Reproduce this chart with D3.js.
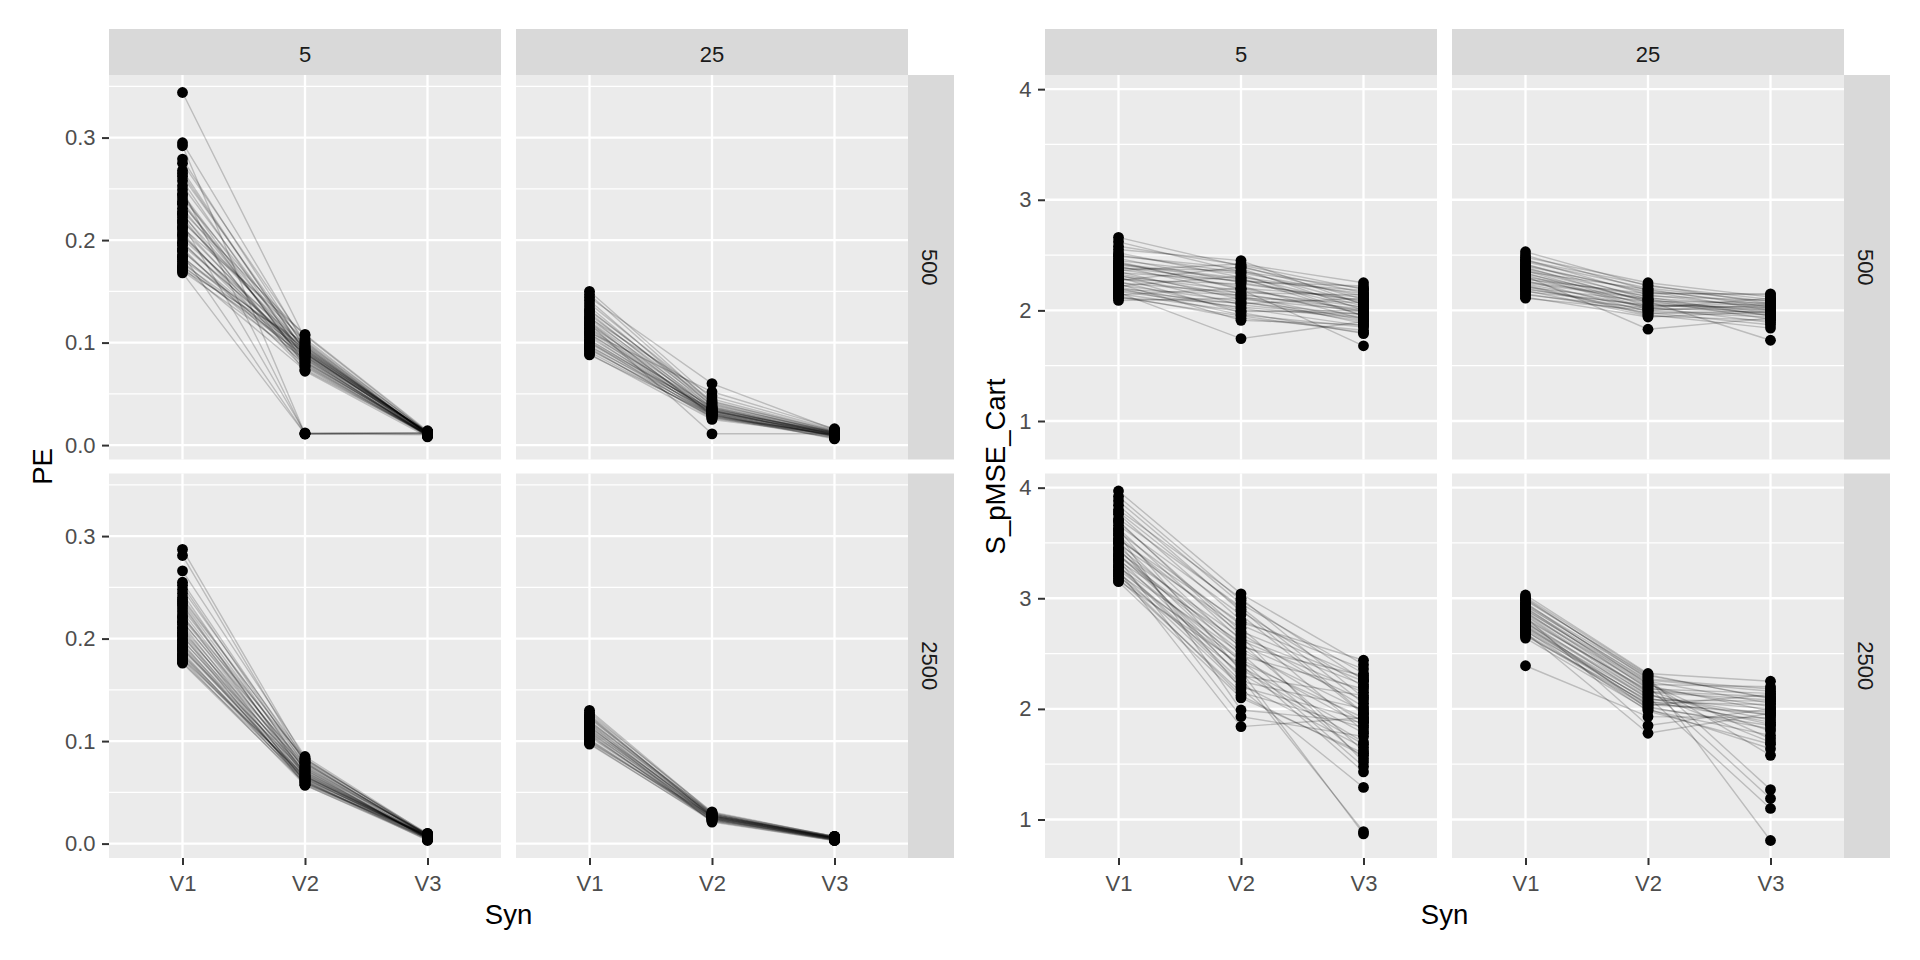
<!DOCTYPE html>
<html>
<head>
<meta charset="utf-8">
<script src="https://cdn.jsdelivr.net/npm/d3@7"></script>
<style>
  html, body { margin: 0; padding: 0; background: #ffffff; }
  svg { display: block; }
  text { font-family: "Liberation Sans", Arial, sans-serif; }
</style>
</head>
<body>
<svg id="chart" width="1920" height="960"></svg>
<script>
// ---------------- DATA ----------------
const SYN = ["V1", "V2", "V3"];
const COL_LABELS = ["5", "25"];
const ROW_LABELS = ["500", "2500"];

const PE_TICKS = [0, 0.1, 0.2, 0.3];
const PE_TICK_LABELS = ["0.0", "0.1", "0.2", "0.3"];
const S_TICKS = [1, 2, 3, 4];
const S_TICK_LABELS = ["1", "2", "3", "4"];

// PE, facet 5 / 500 : each row = [V1, V2, V3]
const pe_5_500 = [
[0.344,0.104,0.012],[0.295,0.098,0.011],[0.292,0.011,0.011],[0.279,0.094,0.013],
[0.275,0.101,0.010],[0.268,0.089,0.012],[0.262,0.096,0.011],[0.258,0.083,0.009],
[0.253,0.092,0.012],[0.249,0.011,0.010],[0.245,0.087,0.013],[0.241,0.099,0.011],
[0.238,0.080,0.010],[0.235,0.093,0.012],[0.231,0.086,0.009],[0.228,0.107,0.013],
[0.225,0.090,0.011],[0.222,0.078,0.010],[0.219,0.095,0.012],[0.216,0.012,0.011],
[0.213,0.084,0.010],[0.210,0.091,0.013],[0.207,0.076,0.009],[0.204,0.088,0.012],
[0.201,0.097,0.011],[0.198,0.082,0.010],[0.195,0.093,0.012],[0.192,0.074,0.011],
[0.189,0.089,0.013],[0.186,0.011,0.012],[0.184,0.085,0.010],[0.181,0.096,0.011],
[0.179,0.079,0.009],[0.177,0.092,0.012],[0.175,0.087,0.011],[0.173,0.073,0.010],
[0.171,0.100,0.013],[0.170,0.084,0.011],[0.168,0.011,0.012],[0.212,0.108,0.014],
[0.226,0.072,0.008],[0.197,0.090,0.010],[0.183,0.094,0.012],[0.236,0.081,0.011],
[0.205,0.086,0.009],[0.265,0.091,0.012],[0.244,0.077,0.010],[0.218,0.102,0.013],
[0.190,0.081,0.011],[0.174,0.090,0.010]
];
// PE, facet 25 / 500
const pe_25_500 = [
[0.150,0.045,0.014],[0.147,0.041,0.012],[0.144,0.060,0.015],[0.141,0.038,0.011],
[0.138,0.043,0.013],[0.135,0.036,0.010],[0.132,0.040,0.012],[0.129,0.034,0.009],
[0.127,0.039,0.013],[0.125,0.032,0.011],[0.123,0.037,0.010],[0.121,0.035,0.012],
[0.119,0.030,0.009],[0.117,0.036,0.011],[0.115,0.033,0.013],[0.113,0.029,0.010],
[0.111,0.034,0.008],[0.109,0.031,0.012],[0.107,0.028,0.010],[0.105,0.033,0.011],
[0.103,0.030,0.009],[0.101,0.027,0.012],[0.099,0.032,0.010],[0.097,0.029,0.008],
[0.095,0.026,0.011],[0.093,0.031,0.009],[0.091,0.028,0.007],[0.089,0.025,0.010],
[0.088,0.030,0.006],[0.118,0.011,0.011],[0.110,0.052,0.016],[0.124,0.048,0.015],
[0.100,0.035,0.012],[0.096,0.033,0.010],[0.108,0.037,0.013],[0.114,0.031,0.009],
[0.120,0.029,0.008],[0.102,0.034,0.011],[0.094,0.027,0.007],[0.131,0.042,0.014]
];
// PE, facet 5 / 2500
const pe_5_2500 = [
[0.287,0.082,0.008],[0.281,0.079,0.007],[0.266,0.085,0.009],[0.252,0.076,0.006],
[0.248,0.083,0.008],[0.244,0.071,0.005],[0.240,0.080,0.007],[0.236,0.074,0.009],
[0.232,0.068,0.006],[0.229,0.078,0.008],[0.226,0.072,0.005],[0.223,0.065,0.007],
[0.220,0.075,0.009],[0.217,0.069,0.006],[0.214,0.063,0.008],[0.211,0.073,0.004],
[0.208,0.067,0.007],[0.205,0.061,0.005],[0.202,0.070,0.008],[0.199,0.064,0.006],
[0.196,0.059,0.009],[0.194,0.068,0.007],[0.191,0.062,0.004],[0.189,0.066,0.006],
[0.187,0.058,0.008],[0.185,0.064,0.005],[0.183,0.060,0.007],[0.181,0.066,0.006],
[0.179,0.057,0.004],[0.177,0.062,0.008],[0.176,0.059,0.005],[0.198,0.072,0.010],
[0.210,0.060,0.006],[0.234,0.066,0.007],[0.216,0.077,0.009],[0.190,0.070,0.006],
[0.203,0.057,0.005],[0.238,0.081,0.010],[0.184,0.063,0.007],[0.221,0.083,0.008],
[0.255,0.079,0.007],[0.193,0.061,0.003],[0.206,0.074,0.006],[0.180,0.065,0.009]
];
// PE, facet 25 / 2500
const pe_25_2500 = [
[0.130,0.030,0.007],[0.128,0.029,0.006],[0.126,0.031,0.007],[0.124,0.028,0.006],
[0.122,0.029,0.005],[0.120,0.027,0.006],[0.118,0.028,0.007],[0.116,0.026,0.005],
[0.114,0.027,0.006],[0.112,0.025,0.004],[0.110,0.026,0.005],[0.108,0.027,0.006],
[0.106,0.024,0.004],[0.104,0.025,0.005],[0.102,0.023,0.004],[0.100,0.024,0.003],
[0.098,0.022,0.004],[0.097,0.023,0.005],[0.115,0.021,0.003],[0.119,0.030,0.007],
[0.111,0.028,0.006],[0.105,0.026,0.005],[0.109,0.024,0.004],[0.123,0.027,0.005],
[0.101,0.025,0.006],[0.113,0.029,0.006],[0.107,0.022,0.003],[0.125,0.026,0.004],
[0.099,0.027,0.006],[0.117,0.025,0.005]
];

// S_pMSE_Cart, facet 5 / 500
const s_5_500 = [
[2.66,2.40,2.10],[2.62,2.35,2.20],[2.55,2.45,2.05],[2.52,2.30,2.15],
[2.49,2.38,2.00],[2.47,2.25,2.08],[2.45,2.33,1.95],[2.43,2.20,2.12],
[2.41,2.28,2.02],[2.40,2.15,1.98],[2.38,2.36,2.06],[2.37,2.22,1.92],
[2.35,2.10,2.00],[2.34,2.27,2.18],[2.32,2.05,1.94],[2.31,2.18,2.03],
[2.29,2.12,1.88],[2.28,2.24,2.09],[2.26,2.00,1.97],[2.25,2.16,2.14],
[2.23,2.08,1.90],[2.22,2.31,2.04],[2.20,1.96,1.85],[2.19,2.14,2.01],
[2.17,2.03,1.93],[2.16,1.745,1.90],[2.14,2.20,1.99],[2.13,1.93,1.82],
[2.11,2.07,1.96],[2.09,2.11,2.07],[2.36,2.42,2.25],[2.30,1.98,1.79],
[2.44,2.19,1.68],[2.24,1.91,1.87],[2.39,2.26,2.22],[2.21,2.02,1.86],
[2.33,2.13,1.91],[2.27,2.39,2.16],[2.18,2.06,2.11],[2.42,2.29,1.95],
[2.50,2.34,2.13],[2.15,1.99,2.00],[2.58,2.41,2.19],[2.12,1.95,1.80]
];
// S_pMSE_Cart, facet 25 / 500
const s_25_500 = [
[2.53,2.22,2.10],[2.50,2.18,2.05],[2.48,2.25,2.12],[2.46,2.14,2.02],
[2.44,2.20,2.08],[2.42,2.10,1.98],[2.41,2.16,2.14],[2.39,2.07,2.00],
[2.38,2.12,1.95],[2.36,2.04,2.06],[2.35,2.19,2.03],[2.33,2.09,1.92],
[2.32,2.01,2.01],[2.30,2.13,2.09],[2.29,2.06,1.97],[2.27,1.99,1.94],
[2.26,2.11,2.04],[2.24,2.03,1.89],[2.23,1.97,2.00],[2.21,2.08,2.07],
[2.20,2.00,1.96],[2.18,1.95,1.91],[2.17,2.05,2.02],[2.15,1.98,1.87],
[2.14,2.02,2.11],[2.12,1.94,1.99],[2.11,2.00,2.05],[2.31,1.83,1.93],
[2.37,2.08,1.73],[2.28,2.15,2.15],[2.22,1.96,1.84],[2.45,2.23,2.06],
[2.34,2.02,1.98],[2.25,2.10,1.95],[2.19,2.04,2.03],[2.40,2.17,2.00]
];
// S_pMSE_Cart, facet 5 / 2500
const s_5_2500 = [
[3.97,3.04,2.40],[3.88,2.95,2.32],[3.84,2.88,2.20],[3.80,3.00,2.10],
[3.76,2.80,2.36],[3.72,2.92,2.05],[3.69,2.70,2.25],[3.66,2.85,1.95],
[3.63,2.62,2.15],[3.60,2.76,2.28],[3.57,2.55,1.88],[3.54,2.68,2.02],
[3.51,2.48,2.18],[3.49,2.73,1.80],[3.46,2.58,2.08],[3.44,2.42,1.92],
[3.42,2.64,2.22],[3.40,2.36,1.70],[3.38,2.52,1.98],[3.36,2.30,2.12],
[3.34,2.60,1.62],[3.32,2.45,1.85],[3.30,2.25,2.00],[3.28,2.50,1.55],
[3.26,2.38,1.78],[3.24,2.20,1.90],[3.22,2.44,1.48],[3.20,2.32,1.68],
[3.18,2.15,1.83],[3.16,2.40,1.43],[3.15,2.10,1.60],[3.58,1.99,1.88],
[3.35,1.93,1.75],[3.25,1.84,1.92],[3.45,2.28,0.89],[3.62,2.34,0.87],
[3.50,2.18,1.29],[3.70,2.66,1.52],[3.78,2.90,1.96],[3.39,2.56,2.30],
[3.29,2.22,1.65],[3.53,2.78,2.44],[3.92,2.98,2.26],[3.21,2.12,1.58]
];
// S_pMSE_Cart, facet 25 / 2500
const s_25_2500 = [
[3.03,2.32,2.25],[3.00,2.27,2.18],[2.98,2.30,2.10],[2.96,2.22,2.20],
[2.94,2.25,2.05],[2.92,2.18,2.14],[2.90,2.21,1.98],[2.88,2.15,2.08],
[2.86,2.19,2.02],[2.84,2.12,1.94],[2.82,2.16,2.11],[2.80,2.09,2.00],
[2.78,2.13,1.90],[2.76,2.06,2.04],[2.74,2.10,1.86],[2.72,2.04,1.97],
[2.70,2.08,2.07],[2.68,2.02,1.82],[2.66,2.05,1.95],[2.64,1.99,1.76],
[2.85,2.14,1.70],[2.79,2.00,1.64],[2.91,2.24,1.58],[2.73,2.07,1.88],
[2.39,1.93,1.92],[2.83,1.85,2.00],[2.69,1.78,1.96],[2.95,2.28,1.27],
[2.87,2.20,1.19],[2.77,2.11,1.10],[2.99,2.29,0.81],[2.81,2.17,1.80],
[2.75,2.03,2.13],[2.89,2.23,1.73],[2.67,2.01,1.85],[2.93,2.26,2.16],
[2.71,1.98,1.68],[3.01,2.31,2.09]
];

// ---------------- LAYOUT / STYLE ----------------
const FONT_AXIS = 22, FONT_TITLE = 27.5;
const PANEL_W = 392, PANEL_H = 384.5, COL_GAP = 15, ROW_GAP = 14;
const TOP = 75, STRIP = 46;

const plots = [
  { title: "PE", left: 109, titleX: 52, ticks: PE_TICKS, labels: PE_TICK_LABELS,
    panels: [[pe_5_500, pe_25_500], [pe_5_2500, pe_25_2500]] },
  { title: "S_pMSE_Cart", left: 1045, titleX: 1005, ticks: S_TICKS, labels: S_TICK_LABELS,
    panels: [[s_5_500, s_25_500], [s_5_2500, s_25_2500]] }
];

const svg = d3.select("#chart");
svg.append("rect").attr("width", 1920).attr("height", 960).attr("fill", "#ffffff");

plots.forEach(p => {
  const all = p.panels.flat().flat().flat();
  const ext = d3.extent(all);
  const pad = (ext[1] - ext[0]) * 0.05;
  const y = d3.scaleLinear().domain([ext[0] - pad, ext[1] + pad]).range([PANEL_H, 0]);
  const x = d3.scalePoint().domain(SYN).range([0, PANEL_W]).padding(0.6);
  const step = p.ticks[1] - p.ticks[0];
  const minor = d3.range(p.ticks[0] - step / 2, p.ticks[p.ticks.length - 1] + step, step)
    .filter(v => v >= y.domain()[0] && v <= y.domain()[1]);

  const line = d3.line().x(d => x(d.s)).y(d => y(d.v));

  p.panels.forEach((row, ri) => {
    row.forEach((rows, ci) => {
      const px = p.left + ci * (PANEL_W + COL_GAP);
      const py = TOP + ri * (PANEL_H + ROW_GAP);
      const g = svg.append("g").attr("transform", `translate(${px},${py})`);
      g.append("rect").attr("width", PANEL_W).attr("height", PANEL_H).attr("fill", "#EBEBEB");
      g.selectAll(".minor").data(minor).join("line")
        .attr("x1", 0).attr("x2", PANEL_W).attr("y1", d => y(d)).attr("y2", d => y(d))
        .attr("stroke", "#ffffff").attr("stroke-width", 1.2);
      g.selectAll(".majh").data(p.ticks).join("line")
        .attr("x1", 0).attr("x2", PANEL_W).attr("y1", d => y(d)).attr("y2", d => y(d))
        .attr("stroke", "#ffffff").attr("stroke-width", 2.3);
      g.selectAll(".majv").data(SYN).join("line")
        .attr("x1", d => x(d)).attr("x2", d => x(d)).attr("y1", 0).attr("y2", PANEL_H)
        .attr("stroke", "#ffffff").attr("stroke-width", 2.3);

      const series = rows.map(r => SYN.map((s, i) => ({ s, v: r[i] })));
      g.append("g").selectAll("path").data(series).join("path")
        .attr("d", line).attr("fill", "none")
        .attr("stroke", "#000000").attr("stroke-opacity", 0.2).attr("stroke-width", 1.4);
      g.append("g").selectAll("circle").data(series.flat()).join("circle")
        .attr("cx", d => x(d.s)).attr("cy", d => y(d.v)).attr("r", 5.4).attr("fill", "#000000");

      // top strips
      if (ri === 0) {
        svg.append("rect").attr("x", px).attr("y", TOP - STRIP).attr("width", PANEL_W).attr("height", STRIP)
          .attr("fill", "#D9D9D9");
        svg.append("text").attr("x", px + PANEL_W / 2).attr("y", TOP - STRIP + 32.5)
          .attr("text-anchor", "middle").attr("font-size", FONT_AXIS).attr("fill", "#1A1A1A")
          .text(COL_LABELS[ci]);
      }
      // right strips
      if (ci === 1) {
        const sx = px + PANEL_W;
        svg.append("rect").attr("x", sx).attr("y", py).attr("width", STRIP).attr("height", PANEL_H)
          .attr("fill", "#D9D9D9");
        svg.append("text").attr("transform", `translate(${sx + 14},${py + PANEL_H / 2}) rotate(90)`)
          .attr("text-anchor", "middle").attr("font-size", FONT_AXIS).attr("fill", "#1A1A1A")
          .text(ROW_LABELS[ri]);
      }
      // y axis
      if (ci === 0) {
        const ax = g.append("g").call(d3.axisLeft(y).tickValues(p.ticks)
          .tickFormat((d, i) => p.labels[i]).tickSize(7).tickPadding(6.5));
        ax.select(".domain").remove();
        ax.selectAll("line").attr("stroke", "#333333").attr("stroke-width", 2);
        ax.selectAll("text").attr("font-size", FONT_AXIS).attr("fill", "#4D4D4D")
          .attr("font-family", "Liberation Sans, Arial, sans-serif");
      }
      // x axis
      if (ri === 1) {
        const ax = g.append("g").attr("transform", `translate(0,${PANEL_H})`)
          .call(d3.axisBottom(x).tickSize(7).tickPadding(10));
        ax.select(".domain").remove();
        ax.selectAll("line").attr("stroke", "#333333").attr("stroke-width", 2);
        ax.selectAll("text").attr("font-size", FONT_AXIS).attr("fill", "#4D4D4D")
          .attr("font-family", "Liberation Sans, Arial, sans-serif");
      }
    });
  });

  // axis titles
  const midY = TOP + (2 * PANEL_H + ROW_GAP) / 2;
  svg.append("text").attr("transform", `translate(${p.titleX},${midY}) rotate(-90)`)
    .attr("text-anchor", "middle").attr("font-size", FONT_TITLE).attr("fill", "#000000")
    .text(p.title);
  svg.append("text").attr("x", p.left + (2 * PANEL_W + COL_GAP) / 2).attr("y", 924)
    .attr("text-anchor", "middle").attr("font-size", FONT_TITLE).attr("fill", "#000000")
    .text("Syn");
});
</script>
</body>
</html>
